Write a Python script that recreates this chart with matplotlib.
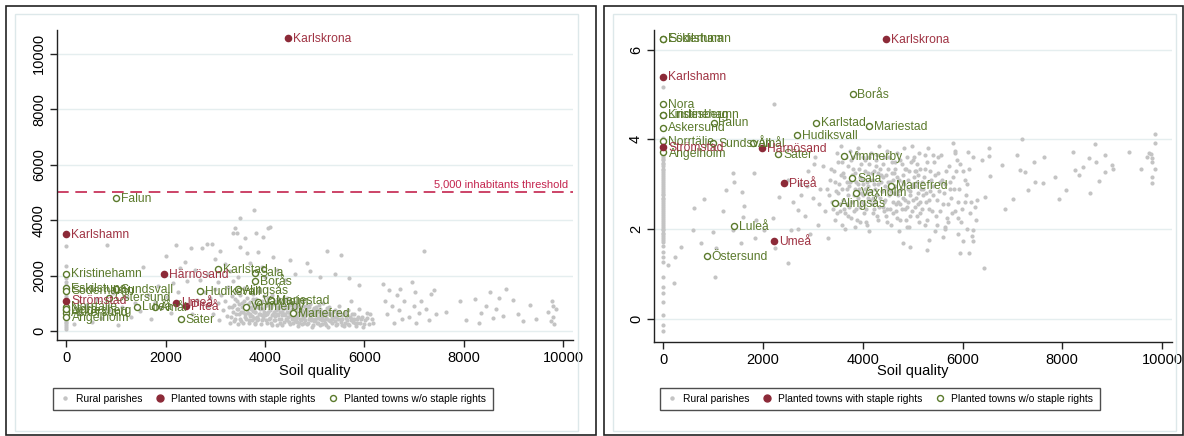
import matplotlib
matplotlib.use("Agg")
import matplotlib.pyplot as plt
from matplotlib.lines import Line2D
from matplotlib.patches import Rectangle

plt.rcParams['font.family'] = ['Liberation Sans', 'DejaVu Sans']

# ---- data -------------------------------------------------------------
# rural parishes, left panel (soil quality, inhabitants)
rural_l_zero = [60, 140, 210, 290, 340, 410, 470, 530, 590, 640, 700, 760, 820, 870,
                930, 990, 1060, 1130, 1200, 1280, 1370, 1460, 1540, 1650, 1780, 1920,
                2080, 2330, 3050]
rural_l = [
    (160, 260), (280, 620), (400, 950), (520, 330), (610, 1150), (700, 480), (820, 3100),
    (860, 760), (940, 1380), (1040, 220), (1120, 880), (1230, 1230), (1300, 520),
    (1390, 1020), (1480, 720), (1550, 2320), (1640, 1310), (1700, 430), (1780, 1060),
    (1850, 1620), (1900, 820), (2000, 2700), (2020, 1220), (2100, 640), (2150, 1730),
    (2220, 3090), (2260, 1420), (2300, 2280), (2360, 930), (2400, 2500), (2440, 1820),
    (2510, 2990), (2540, 610), (2590, 2210), (2640, 1120), (2730, 2990), (2830, 3130),
    (2930, 3130),
    (3000, 2600), (3100, 2900), (3360, 3530), (3400, 3700), (3430, 3530), (3500, 4090),
    (3500, 3040), (3600, 3350), (3630, 2800), (3780, 4370), (3830, 3550), (3870, 2860),
    (3960, 3380), (4070, 3700), (4100, 3760), (4170, 2680), (4500, 2560), (4840, 2440),
    (5240, 2890), (5540, 2740), (3200, 2400), (3300, 2150), (3700, 2450), (3950, 2300),
    (4250, 2200), (4600, 2050), (4900, 2150), (5100, 1950), (5400, 2050), (3450, 1950),
    (2850, 2050), (2700, 1850), (3050, 1750), (3350, 1800), (4000, 1950), (4400, 1850),
    (5700, 1900), (5900, 1650),
    (2800, 1400), (2850, 900), (2900, 1200), (2950, 600), (3000, 1500), (3050, 1000),
    (3080, 400), (3120, 1300), (3150, 750), (3200, 1100), (3230, 550), (3260, 1600),
    (3280, 850), (3300, 300),
    (3330, 1250), (3350, 700), (3380, 950), (3400, 450), (3420, 1400), (3440, 1100),
    (3460, 800), (3480, 600), (3500, 1300), (3520, 350), (3540, 1000), (3560, 700),
    (3580, 1550), (3600, 500), (3620, 900), (3640, 1200), (3660, 650), (3680, 400),
    (3700, 1050), (3720, 800), (3740, 550), (3760, 1350), (3780, 950), (3790, 250),
    (3810, 700), (3830, 1150), (3850, 500), (3870, 850), (3890, 1450), (3910, 620),
    (3930, 1000), (3950, 380), (3970, 780), (3990, 1250), (4010, 560), (4030, 920),
    (4050, 300), (4070, 700), (4090, 1100), (4110, 480), (4130, 850), (4150, 1300),
    (4170, 620), (4190, 400), (4210, 980), (4230, 750), (4250, 200), (4270, 560),
    (4290, 1150),
    (4310, 850), (4330, 450), (4350, 680), (4370, 1000), (4390, 320), (4410, 580),
    (4430, 820), (4450, 1200), (4470, 500), (4490, 700), (4510, 250), (4530, 920),
    (4550, 420), (4570, 640), (4590, 1050), (4610, 350), (4630, 780), (4650, 520),
    (4670, 180), (4690, 900), (4710, 600), (4730, 400), (4750, 760), (4770, 1100),
    (4790, 300),
    (4810, 540), (4830, 820), (4850, 250), (4870, 680), (4890, 420), (4910, 980),
    (4930, 560), (4950, 160), (4970, 740), (4990, 350), (5010, 600), (5030, 880),
    (5050, 280), (5070, 480), (5090, 720), (5110, 200), (5130, 560), (5150, 380),
    (5170, 1000), (5190, 640), (5210, 300), (5230, 480), (5250, 820), (5270, 150),
    (5290, 400),
    (5320, 620), (5350, 280), (5380, 500), (5410, 760), (5440, 200), (5470, 420),
    (5500, 900), (5530, 330), (5560, 560), (5590, 180), (5620, 700), (5650, 400),
    (5680, 250), (5710, 520), (5740, 1100), (5770, 320), (5800, 620), (5830, 180),
    (5860, 450), (5890, 800), (5920, 300), (5950, 520), (5980, 150), (6010, 380),
    (6050, 650), (6100, 250), (6150, 450),
    (3600, 850), (3700, 600), (3800, 1000), (3900, 800), (4000, 650), (4100, 900),
    (4200, 550), (4300, 700), (4400, 900), (4500, 600), (4600, 850), (4700, 450),
    (4800, 700), (4900, 600), (5000, 450), (5100, 800), (5200, 650), (3750, 720),
    (3850, 380), (3950, 560), (4050, 1050), (4150, 200), (4250, 880), (4350, 560),
    (4450, 380), (4550, 780), (4650, 330), (4750, 580), (4850, 900), (4950, 420),
    (5050, 700), (5150, 500), (5250, 600), (5350, 420), (5450, 600), (5550, 450),
    (5650, 560), (5750, 430), (5850, 300),
    (3310, 520), (3340, 880), (3370, 350), (3390, 1150), (3410, 620), (3430, 780),
    (3450, 270), (3470, 980), (3490, 430), (3510, 700), (3530, 850), (3550, 300),
    (3570, 1100), (3590, 620), (3610, 420), (3630, 760), (3650, 980), (3670, 300),
    (3690, 550), (3710, 880), (3730, 380), (3750, 1150), (3770, 480), (3790, 680),
    (3810, 300), (3830, 870), (3850, 1000), (3870, 450), (3890, 620), (3910, 820),
    (3930, 250), (3950, 1100), (3970, 470), (3990, 690), (4010, 900), (4030, 380),
    (4050, 600), (4070, 1200), (4090, 420), (4110, 750), (4130, 300), (4150, 560),
    (4170, 980), (4190, 680), (4210, 380), (4230, 1100), (4250, 620), (4270, 780),
    (4290, 450), (4310, 300), (4330, 950), (4350, 220), (4370, 780), (4390, 600),
    (4410, 1100), (4430, 420), (4450, 680), (4470, 860), (4490, 330), (4510, 1000),
    (4530, 540), (4550, 740), (4570, 280), (4590, 500), (4610, 950), (4630, 440),
    (4650, 700), (4670, 600), (4690, 300), (4710, 850), (4730, 660), (4750, 240),
    (4770, 480), (4790, 900), (4810, 380), (4830, 620), (4850, 720), (4870, 280),
    (4890, 850), (4910, 520), (4930, 380), (4950, 700), (4970, 200), (4990, 820),
    (5010, 400), (5030, 560), (5050, 760), (5070, 300), (5090, 920), (5110, 450),
    (5130, 680), (5150, 250), (5170, 560), (5190, 400), (5210, 720), (5230, 220),
    (5250, 450), (5270, 650), (5290, 860), (5310, 350), (5340, 520), (5370, 700),
    (5400, 350), (5430, 520), (5460, 250), (5490, 680), (5520, 420), (5550, 200),
    (5580, 620), (5610, 300), (5640, 480), (5670, 750), (5700, 200), (5730, 380),
    (5760, 600), (5790, 450), (5820, 300), (5880, 520), (5940, 420), (6000, 250),
    (6060, 480), (6120, 600), (6180, 300),
    (6370, 1700), (6420, 1100), (6450, 600), (6500, 1480), (6550, 900), (6600, 300),
    (6650, 1300), (6710, 1500), (6700, 750), (6750, 450), (6800, 1100), (6960, 1760),
    (6900, 500), (7000, 900), (7015, 1420), (7050, 300), (7100, 650), (7196, 2900),
    (7150, 1100), (7250, 800), (7300, 400), (7400, 1480), (7350, 1350), (7450, 600),
    (7650, 700), (7920, 1080), (8050, 400), (8220, 1150), (8300, 280), (8350, 650),
    (8450, 900), (8520, 1420), (8590, 460), (8650, 800), (8720, 1180), (8800, 550),
    (8860, 1520), (8990, 1120), (9100, 600), (9200, 350), (9330, 940), (9450, 450),
    (9700, 700), (9780, 1100), (9790, 900), (9800, 500), (9810, 250), (9760, 350),
    (9850, 800),
]

# rural parishes, right panel (soil quality, second measure)
rural_r_zero = [-0.27, -0.14, 0.08, 0.38, 0.57, 0.71, 0.94, 1.27, 1.38, 1.49, 1.63,
                1.72, 1.76, 1.79, 1.84, 1.88, 1.92, 1.97, 2.01, 2.05, 2.1, 2.14, 2.18,
                2.23, 2.27, 2.31, 2.36, 2.4, 2.44, 2.49, 2.53, 2.57, 2.62, 2.66, 2.7,
                2.75, 2.79, 2.83, 2.88, 2.92, 2.96, 3.01, 3.05, 3.09, 3.14, 3.18, 3.22,
                3.27, 3.31, 3.35, 3.4, 3.44, 3.48, 3.53, 3.57, 3.61, 3.66, 3.7, 3.74,
                3.79, 3.83, 3.87, 3.93, 3.97, 4.02, 5.16]
rural_r = [
    (86, 1.2), (221, 0.79), (235, 1.37), (356, 1.61), (589, 1.98), (623, 2.47),
    (810, 2.66), (1045, 0.94), (992, 1.94), (1193, 2.4), (1260, 2.87), (1393, 3.24),
    (1427, 3.04), (1574, 2.83), (1628, 2.51), (1829, 3.24), (1594, 2.27), (1863, 2.2),
    (2030, 1.98), (2197, 2.24), (2231, 1.57), (2499, 1.24), (2566, 1.98), (2331, 2.72),
    (2700, 2.42), (1830, 1.79), (757, 1.68), (1059, 1.57), (1393, 1.98), (1561, 1.68),
    (2499, 3.09), (2767, 2.76), (2217, 4.78), (2600, 2.6), (2700, 2.0), (2750, 3.0),
    (2850, 2.3), (2900, 3.3), (2950, 1.9), (3000, 2.7), (3050, 3.6), (3100, 2.1),
    (3150, 2.9), (3200, 3.4), (3250, 2.4), (3300, 1.8), (3350, 3.1), (3380, 2.6),
    (2880, 2.95), (3020, 3.45), (3120, 2.55), (3280, 2.9),
    (3420, 3.3), (3450, 2.2), (3480, 3.7), (3500, 2.8), (3530, 3.0), (3550, 2.4),
    (3580, 3.5), (3600, 2.65), (3630, 3.15), (3650, 2.0), (3680, 2.9), (3700, 3.4),
    (3720, 2.5), (3750, 3.05), (3770, 2.25), (3800, 3.6), (3820, 2.75), (3850, 3.25),
    (3870, 2.45), (3900, 3.8), (3920, 2.9), (3950, 2.15), (3970, 3.45), (3990, 2.6),
    (3460, 2.6), (3560, 3.85), (3640, 2.35), (3740, 3.75), (3840, 2.05), (3940, 3.15),
    (4010, 3.0), (4030, 2.35), (4050, 3.55), (4080, 2.8), (4100, 3.25), (4120, 1.95),
    (4150, 2.65), (4170, 3.7), (4200, 3.1), (4220, 2.45), (4250, 2.9), (4270, 3.4),
    (4300, 2.2), (4320, 3.85), (4350, 2.7), (4370, 3.2), (4400, 2.5), (4420, 3.6),
    (4450, 2.95), (4470, 2.3), (4500, 3.35), (4520, 2.75), (4550, 3.05), (4570, 2.1),
    (4590, 3.5), (4060, 2.15), (4180, 2.55), (4280, 3.65), (4380, 2.85), (4480, 3.75),
    (4610, 2.6), (4630, 3.25), (4660, 2.4), (4680, 3.7), (4700, 2.85), (4730, 3.1),
    (4750, 2.2), (4780, 3.45), (4800, 2.7), (4830, 3.0), (4850, 2.45), (4880, 3.6),
    (4900, 2.9), (4930, 3.3), (4950, 2.3), (4980, 3.85), (5000, 2.65), (5030, 3.15),
    (5050, 2.5), (5080, 3.45), (5100, 2.8), (5130, 3.7), (5150, 2.35), (5180, 3.05),
    (4720, 1.95), (4820, 3.8), (4920, 2.05), (5020, 3.6), (5120, 2.15),
    (5210, 2.9), (5240, 3.35), (5270, 2.6), (5300, 3.8), (5330, 2.45), (5360, 3.1),
    (5400, 2.75), (5430, 3.5), (5460, 2.3), (5500, 3.25), (5530, 2.85), (5560, 3.65),
    (5600, 2.55), (5640, 3.0), (5680, 2.25), (5720, 3.4), (5760, 2.7), (5800, 3.15),
    (5840, 2.4), (5880, 3.55), (5920, 2.9), (5960, 2.15), (6000, 3.3), (6050, 2.6),
    (6100, 3.0), (6150, 2.35), (5250, 2.1), (5450, 1.95), (5650, 2.0), (5850, 3.75),
    (3900, 3.0), (4000, 2.75), (4100, 2.95), (4200, 2.7), (4300, 3.0), (4400, 3.15),
    (4500, 2.9), (4600, 3.1), (4700, 2.6), (4800, 3.2), (4900, 2.6), (5000, 3.0),
    (5100, 3.2), (5200, 2.75), (3850, 2.9), (3950, 2.5), (4050, 2.9), (4150, 3.1),
    (4250, 2.6), (4350, 3.35), (4450, 2.65), (4550, 2.45), (4650, 2.95), (4750, 2.55),
    (4850, 3.35), (4950, 2.75), (5050, 2.95), (5150, 2.6), (5350, 2.85), (5550, 3.05),
    (5750, 2.9), (3700, 2.75), (3600, 3.25), (4120, 3.45), (4420, 2.4), (4640, 3.5),
    (4860, 2.2), (5060, 3.3), (3780, 3.2), (4220, 3.3),
    (3320, 2.75), (3360, 3.35), (3400, 2.45), (3440, 3.05), (3470, 2.85), (3510, 3.5),
    (3540, 2.55), (3570, 3.2), (3590, 2.9), (3620, 2.45), (3660, 3.6), (3690, 3.05),
    (3710, 2.3), (3730, 2.95), (3760, 3.55), (3790, 2.6), (3810, 3.35), (3830, 2.4),
    (3860, 3.05), (3880, 3.7), (3910, 2.7), (3930, 3.35), (3960, 2.8), (3980, 3.1),
    (4000, 3.6), (4020, 2.55), (4040, 3.3), (4070, 2.45), (4090, 3.05), (4110, 2.7),
    (4130, 3.6), (4160, 2.85), (4190, 3.25), (4210, 2.35), (4230, 3.0), (4260, 3.55),
    (4290, 2.75), (4310, 3.25), (4330, 2.5), (4360, 3.05), (4390, 2.85), (4410, 3.45),
    (4430, 2.6), (4460, 3.2), (4490, 2.45), (4510, 3.05), (4530, 3.6), (4560, 2.85),
    (4580, 3.25), (4600, 2.35), (4620, 2.8), (4650, 3.35), (4670, 2.55), (4690, 3.15),
    (4710, 2.75), (4740, 3.55), (4760, 2.9), (4790, 2.45), (4810, 3.05), (4840, 2.65),
    (4870, 3.35), (4890, 2.5), (4910, 3.1), (4940, 2.85), (4960, 3.5), (4990, 2.4),
    (5010, 2.95), (5040, 3.3), (5070, 2.7), (5090, 3.05), (5110, 2.55), (5140, 3.35),
    (5160, 2.9), (5190, 2.45), (5220, 3.15), (5260, 2.8), (5290, 3.5), (5320, 2.65),
    (5350, 3.3), (5380, 2.4), (5410, 2.95), (5440, 3.2), (5480, 2.65), (5510, 3.6),
    (5540, 2.4), (5580, 3.1), (5620, 2.8), (5660, 3.3), (5700, 2.55), (5740, 3.05),
    (5780, 2.35), (5820, 2.9), (5860, 3.3), (5900, 2.6), (5940, 3.45), (5990, 2.45),
    (6040, 3.1), (6080, 2.75), (6130, 3.35), (6180, 2.6), (6220, 3.6), (3480, 2.35),
    (3580, 2.1), (3680, 2.55), (3880, 2.2), (4080, 2.1), (4280, 2.3), (4480, 2.15),
    (4680, 2.25), (4880, 2.05), (5080, 2.3), (5280, 2.2), (5480, 2.1), (5700, 2.15),
    (5900, 2.25), (6100, 2.0), (6200, 1.85),
    (5246, 3.65), (5414, 3.65), (5011, 3.54), (5849, 3.69), (5815, 3.91),
    (5950, 1.46), (6131, 1.46), (6218, 1.73), (6017, 1.73), (5916, 1.9), (6218, 1.98),
    (5293, 1.53), (4945, 1.61), (4811, 1.68), (5333, 1.75), (5615, 1.83), (5648, 2.05),
    (6285, 2.65), (6250, 2.5), (6280, 2.2), (6438, 1.14),
    (6117, 3.71), (6539, 3.8), (6385, 3.54), (6539, 3.63), (6553, 3.19), (6452, 2.72),
    (6854, 2.44), (6787, 3.43), (7021, 2.68), (7089, 3.65), (7189, 4.01), (7156, 3.32),
    (7256, 3.28), (7323, 2.87), (7424, 3.5), (7457, 3.05), (7625, 3.6), (7604, 3.02),
    (7846, 3.15), (7926, 2.66), (8074, 2.88), (8215, 3.72), (8261, 3.32), (8328, 3.2),
    (8417, 3.39), (8529, 3.58), (8563, 2.8), (8663, 3.9), (8683, 3.5), (8737, 3.07),
    (8850, 3.65), (8864, 3.28), (8998, 3.43), (9011, 3.33), (9333, 3.71), (9582, 3.35),
    (9735, 3.69), (9800, 3.58), (9800, 3.5), (9800, 3.17), (9800, 3.03), (9869, 3.91),
    (9855, 4.13), (9869, 3.35), (9775, 3.67), (9702, 3.61),
]

# planted towns with staple rights: name, soil quality, inhabitants, right-panel value
staple_names = ["Karlskrona", "Karlshamn", "Härnösand", "Strömstad", "Umeå", "Piteå"]
staple_soil = [4460, 0, 1976, 0, 2218, 2420]
staple_pop = [10570, 3500, 2050, 1100, 1020, 900]
staple_r = [6.24, 5.40, 3.80, 3.82, 1.73, 3.02]

# planted towns without staple rights
other_names = ["Falun", "Kristinehamn", "Eskilstuna", "Söderhamn", "Sundsvall",
               "Östersund", "Norrtälje", "Lindesberg", "Askersund", "Ängelholm", "Nora",
               "Karlstad", "Sala", "Borås", "Hudiksvall", "Alingsås", "Vaxholm",
               "Mariestad", "Vimmerby", "Mariefred", "Säter", "Luleå", "Åmål"]
other_soil = [1010, 0, 0, 0, 1000, 870, 0, 0, 0, 0, 0, 3065, 3790, 3795, 2687, 3450,
              3860, 4130, 3625, 4573, 2310, 1427, 1795]
other_pop = [4800, 2070, 1550, 1450, 1500, 1200, 880, 760, 660, 520, 800, 2230, 2100,
             1800, 1445, 1505, 1060, 1120, 877, 640, 433, 877, 855]
other_r = [4.37, 4.55, 6.25, 6.25, 3.91, 1.40, 3.96, 4.55, 4.26, 3.71, 4.79, 4.37,
           3.13, 5.01, 4.09, 2.59, 2.81, 4.30, 3.63, 2.97, 3.67, 2.07, 3.92]

threshold = 5000

# ---- style --------------------------------------------------------------
W, H = 1184, 436
GRAY = "#c4c4c4"
RED = "#8c2a38"
RED_TXT = "#a03444"
GREEN = "#5b7a2c"
CRIMSON = "#c4244e"
GRID = "#e5eeef"

fig = plt.figure(figsize=(W / 100, H / 100), dpi=100)


def fx(px):
    return px / W


def fy(py):
    return 1 - py / H


# panel frames (outer black, inner light)
for x0, x1 in [(6, 596), (604, 1183)]:
    fig.patches.append(Rectangle((fx(x0), fy(435)), fx(x1 - x0), 429 / H,
                                 transform=fig.transFigure, fill=False,
                                 edgecolor="#222222", lw=1.2))
for x0, x1 in [(15, 578), (613, 1176)]:
    fig.patches.append(Rectangle((fx(x0), fy(431)), fx(x1 - x0), 417 / H,
                                 transform=fig.transFigure, fill=False,
                                 edgecolor="#dde8ea", lw=1.0))


def setup(ax, ylim, yticks):
    ax.set_xlim(-185, 10200)
    ax.set_ylim(*ylim)
    ax.set_xticks([0, 2000, 4000, 6000, 8000, 10000])
    ax.set_yticks(yticks)
    ax.set_yticklabels([str(t) for t in yticks], rotation=90, va="center")
    ax.tick_params(axis="both", labelsize=10.5, length=5, width=1, direction="out",
                   color="#222222", pad=3)
    for s in ["top", "right"]:
        ax.spines[s].set_visible(False)
    for s in ["left", "bottom"]:
        ax.spines[s].set_color("#222222")
        ax.spines[s].set_linewidth(1)
    for t in yticks:
        ax.axhline(t, color=GRID, lw=1, zorder=0)
    ax.patch.set_alpha(0)


def draw(ax, rural_zero, rural, s_y, o_y):
    ax.scatter([0] * len(rural_zero), rural_zero, s=9, color=GRAY, lw=0, zorder=1)
    ax.scatter([p[0] for p in rural], [p[1] for p in rural], s=9, color=GRAY, lw=0,
               zorder=1)
    ax.scatter(other_soil, o_y, s=19, facecolor="white", edgecolor=GREEN, lw=1,
               zorder=3)
    ax.scatter(staple_soil, s_y, s=30, color=RED, lw=0, zorder=3)
    for n, x, y in zip(other_names, other_soil, o_y):
        ax.annotate(n, (x, y), xytext=(3.5, -0.5), textcoords="offset points",
                    fontsize=8.7, color=GREEN, va="center", ha="left", zorder=4)
    for n, x, y in zip(staple_names, staple_soil, s_y):
        ax.annotate(n, (x, y), xytext=(3.5, -0.5), textcoords="offset points",
                    fontsize=8.7, color=RED_TXT, va="center", ha="left", zorder=4)


axl = fig.add_axes([fx(57), fy(340), fx(573 - 57), (340 - 30) / H])
setup(axl, (-325, 10860), [0, 2000, 4000, 6000, 8000, 10000])
draw(axl, rural_l_zero, rural_l, staple_pop, other_pop)
axl.axhline(threshold, color=CRIMSON, lw=1.2, ls=(0, (7, 4)), zorder=2)
axl.text(10100, threshold + 120, "5,000 inhabitants threshold", color=CRIMSON,
         fontsize=8, ha="right", va="bottom")

axr = fig.add_axes([fx(654), fy(342), fx(1172 - 654), (342 - 30) / H])
setup(axr, (-0.52, 6.44), [0, 2, 4, 6])
draw(axr, rural_r_zero, rural_r, staple_r, other_r)

for cx, lx in [(273, 315), (880, 913)]:
    fig.text(fx(lx), fy(371), "Soil quality", fontsize=10.5, ha="center", va="center")
    handles = [
        Line2D([], [], ls="none", marker="o", ms=2.2, color=GRAY, mec=GRAY),
        Line2D([], [], ls="none", marker="o", ms=5, color=RED, mec=RED),
        Line2D([], [], ls="none", marker="o", ms=4.3, mfc="white", mec=GREEN, mew=1),
    ]
    leg = fig.legend(handles, ["Rural parishes", "Planted towns with staple rights",
                               "Planted towns w/o staple rights"],
                     loc="center", bbox_to_anchor=(fx(cx), fy(399)), ncol=3,
                     fontsize=7.4, frameon=True, fancybox=False, edgecolor="#222222",
                     handlelength=1.0, handletextpad=0.6, columnspacing=1.2,
                     borderpad=0.6)
    leg.get_frame().set_linewidth(1)

fig.savefig("out.png", dpi=100)
